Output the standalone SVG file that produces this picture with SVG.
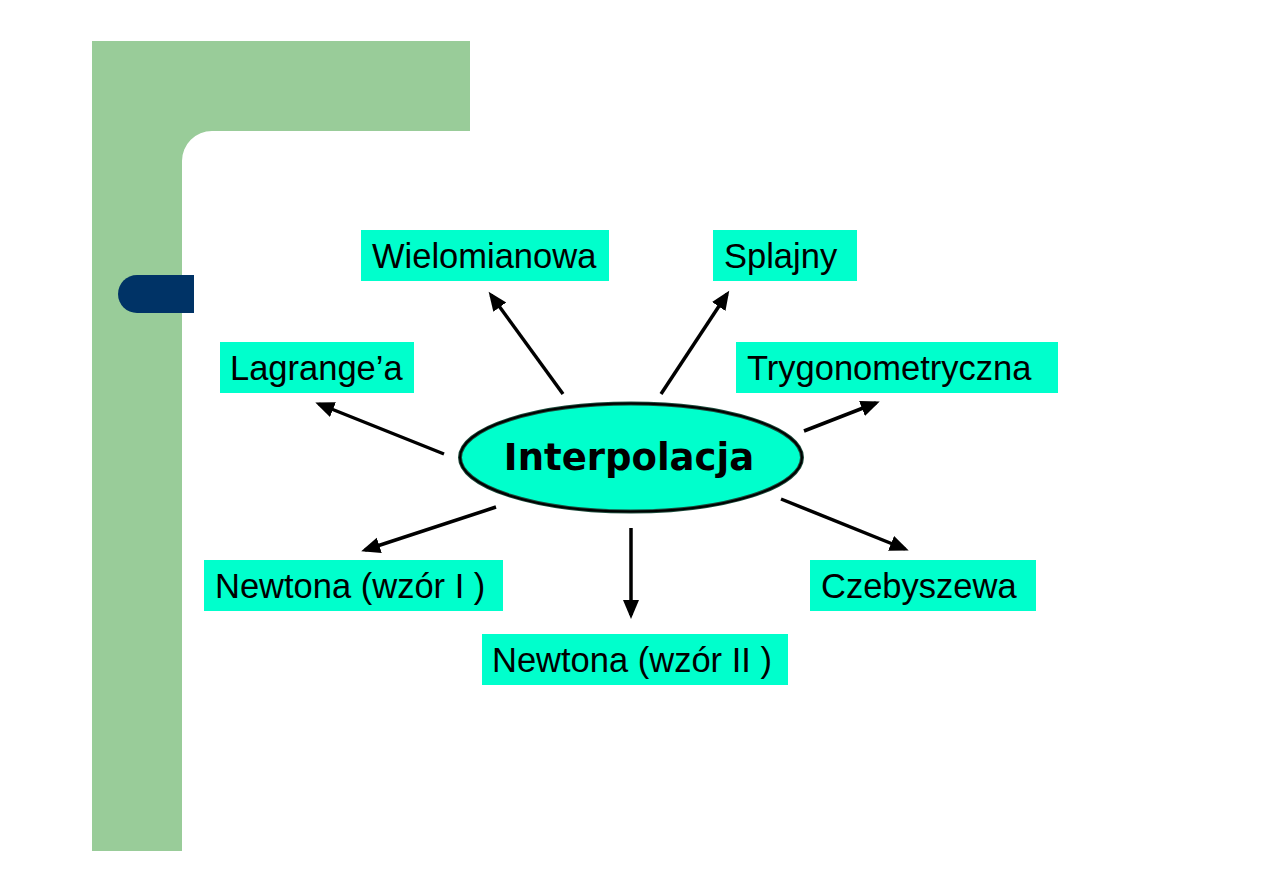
<svg xmlns="http://www.w3.org/2000/svg" width="1263" height="893" viewBox="0 0 1263 893">
<defs>
<style>
.box{fill:#00FFCC}
.lbl{font-family:"Liberation Sans",Arial,sans-serif;font-size:34.5px;fill:#000}
.con{stroke:#000;stroke-width:3.5;fill:none;marker-end:url(#ah)}
</style>
<marker id="ah" markerUnits="userSpaceOnUse" markerWidth="20" markerHeight="18" refX="15" refY="8" orient="auto">
<path d="M0,0 L19,8 L0,16 Z" fill="#000"/>
</marker>
</defs>
<rect width="1263" height="893" fill="#fff"/>
<g id="background">
<path d="M92,41 H470 V131 H212 A30,30 0 0 0 182,161 V851 H92 Z" fill="#99CC99"/>
<path d="M137,275 H194 V313 H137 A19,19 0 0 1 137,275 Z" fill="#003366"/>
</g>
<g id="connectors">
<line class="con" x1="563" y1="394" x2="491" y2="295"/>
<line class="con" x1="661" y1="394" x2="727" y2="294"/>
<line class="con" x1="444" y1="454" x2="319" y2="404"/>
<line class="con" x1="804" y1="431" x2="876" y2="403"/>
<line class="con" x1="496" y1="507" x2="365" y2="550"/>
<line class="con" x1="631" y1="528" x2="631" y2="615"/>
<line class="con" x1="781" y1="499" x2="905" y2="549"/>
</g>
<g id="center">
<ellipse cx="631" cy="457.5" rx="171" ry="54" fill="#00FFCC" stroke="#1a4a3a" stroke-width="4"/>
<ellipse cx="631" cy="457.5" rx="171" ry="54" fill="none" stroke="#000" stroke-width="2"/>
<text x="629" y="470" text-anchor="middle" font-family="DejaVu Sans,Verdana,sans-serif" font-weight="bold" font-size="37" fill="#000">Interpolacja</text>
</g>
<g id="n-wielomianowa"><rect class="box" x="361" y="230" width="248" height="51"/><text class="lbl" x="372" y="268">Wielomianowa</text></g>
<g id="n-splajny"><rect class="box" x="713" y="230" width="144" height="51"/><text class="lbl" x="724" y="268">Splajny</text></g>
<g id="n-lagrange"><rect class="box" x="220" y="342" width="194" height="51"/><text class="lbl" x="230" y="380">Lagrange’a</text></g>
<g id="n-trygonometryczna"><rect class="box" x="736" y="342" width="322" height="51"/><text class="lbl" x="747" y="380">Trygonometryczna</text></g>
<g id="n-newton1"><rect class="box" x="204" y="560" width="299" height="51"/><text class="lbl" x="215" y="598">Newtona (wzór I )</text></g>
<g id="n-czebyszewa"><rect class="box" x="810" y="560" width="226" height="51"/><text class="lbl" x="821" y="598">Czebyszewa</text></g>
<g id="n-newton2"><rect class="box" x="482" y="634" width="306" height="51"/><text class="lbl" x="492" y="672">Newtona (wzór II )</text></g>
</svg>
